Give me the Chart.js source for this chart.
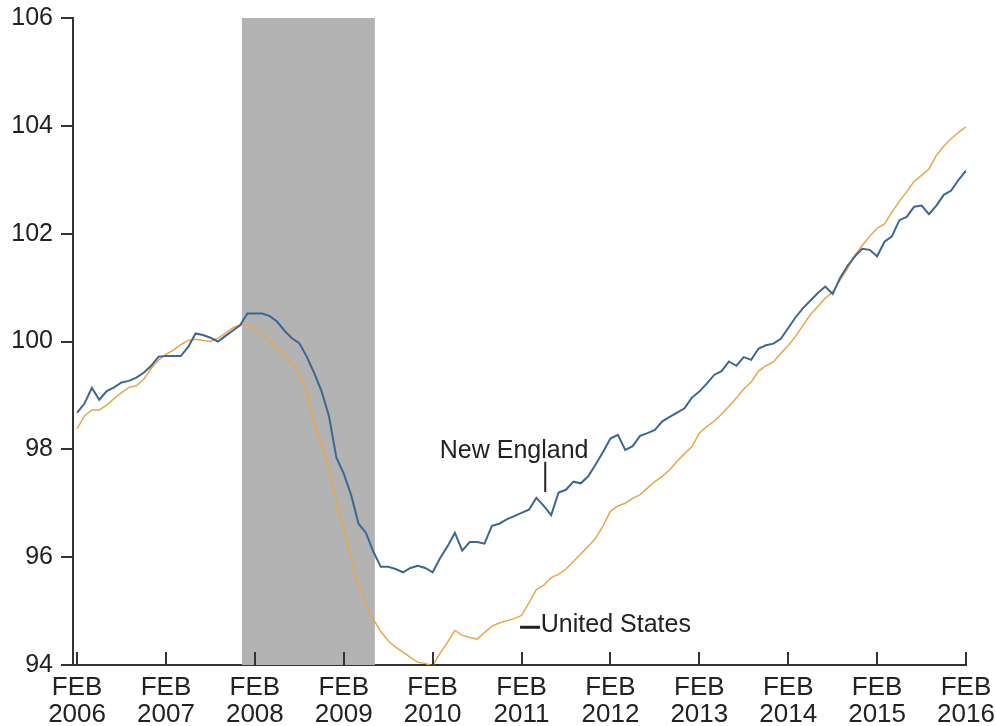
<!DOCTYPE html>
<html>
<head>
<meta charset="utf-8">
<script src="https://cdn.jsdelivr.net/npm/chart.js@4/dist/chart.umd.min.js"></script>
<style>
  html, body { margin: 0; padding: 0; background: #fff; }
  #wrap { width: 996px; height: 726px; }
</style>
</head>
<body>
<div id="wrap"><canvas id="chart" width="996" height="726"></canvas></div>
<script>
// monthly index, Feb 2006 = 0 ... Feb 2016 = 120
const years = [2006, 2007, 2008, 2009, 2010, 2011, 2012, 2013, 2014, 2015, 2016];
const yTicks = [94, 96, 98, 100, 102, 104, 106];

// recession band (Dec 2007 - Jun 2009), in month index
const recession = [22.25, 40.2];

const newEngland = [
  98.68, 98.85, 99.14, 98.92, 99.08, 99.15, 99.24, 99.27, 99.33, 99.42,
  99.55, 99.72, 99.73, 99.73, 99.73, 99.90, 100.15, 100.12, 100.07, 100.00,
  100.10, 100.20, 100.30, 100.52, 100.52, 100.52, 100.47, 100.37, 100.20, 100.06,
  99.97, 99.72, 99.42, 99.08, 98.62, 97.85, 97.55, 97.15, 96.62, 96.45,
  96.10, 95.82, 95.82, 95.78, 95.72, 95.80, 95.84, 95.80, 95.72, 95.98,
  96.20, 96.45, 96.12, 96.28, 96.28, 96.25, 96.58, 96.62, 96.70, 96.76,
  96.82, 96.88, 97.10, 96.95, 96.78, 97.20, 97.25, 97.40, 97.37, 97.50,
  97.72, 97.95, 98.20, 98.27, 97.99, 98.06, 98.25, 98.30, 98.36, 98.52,
  98.60, 98.68, 98.76, 98.96, 99.07, 99.22, 99.38, 99.45, 99.63, 99.55,
  99.71, 99.66, 99.87, 99.93, 99.96, 100.05, 100.25, 100.45, 100.62, 100.76,
  100.90, 101.02, 100.88, 101.18, 101.40, 101.58, 101.72, 101.70, 101.58, 101.85,
  101.95, 102.25, 102.31, 102.50, 102.52, 102.36, 102.52, 102.72, 102.80, 103.00,
  103.17
];

const unitedStates = [
  98.38, 98.62, 98.73, 98.73, 98.82, 98.94, 99.05, 99.15, 99.18, 99.30,
  99.50, 99.66, 99.76, 99.84, 99.94, 100.02, 100.04, 100.02, 100.00, 100.06,
  100.15, 100.25, 100.31, 100.31, 100.24, 100.12, 100.02, 99.88, 99.74, 99.60,
  99.40, 99.05, 98.50, 98.12, 97.62, 97.05, 96.55, 95.95, 95.48, 95.15,
  94.85, 94.62, 94.45, 94.33, 94.24, 94.14, 94.05, 94.03, 93.98, 94.22,
  94.42, 94.64, 94.55, 94.51, 94.48, 94.60, 94.72, 94.78, 94.82, 94.86,
  94.92, 95.15, 95.40, 95.48, 95.62, 95.68, 95.78, 95.92, 96.06, 96.20,
  96.35, 96.58, 96.85, 96.95, 97.00, 97.09, 97.16, 97.28, 97.40, 97.50,
  97.62, 97.78, 97.92, 98.05, 98.30, 98.42, 98.52, 98.65, 98.80, 98.95,
  99.12, 99.25, 99.45, 99.55, 99.62, 99.78, 99.92, 100.10, 100.30, 100.50,
  100.65, 100.80, 100.92, 101.14, 101.35, 101.60, 101.78, 101.95, 102.10, 102.18,
  102.40, 102.60, 102.78, 102.97, 103.08, 103.20, 103.45, 103.62, 103.76, 103.88,
  103.98
];

const FONT = "'Liberation Sans', Arial, sans-serif";
const INK = "#222";

// series annotations, placed in data units
const notes = [
  { text: "New England", x: 59.0, y: 97.97, align: "center", lead: [[63.2, 97.77], [63.2, 97.21]], leadWidth: 2 },
  { text: "United States", x: 62.6, y: 94.74, align: "left", lead: [[59.8, 94.70], [62.5, 94.70]], leadWidth: 3 }
];

const toPoints = arr => arr.map((v, i) => ({ x: i, y: v }));

const extras = {
  id: "extras",
  beforeDatasetsDraw(chart) {
    const { ctx, chartArea, scales } = chart;
    const x0 = scales.x.getPixelForValue(recession[0]);
    const x1 = scales.x.getPixelForValue(recession[1]);
    ctx.save();
    ctx.fillStyle = "#b3b3b3";
    ctx.fillRect(x0, chartArea.top, x1 - x0, chartArea.bottom - chartArea.top);
    ctx.restore();
  },
  afterDraw(chart) {
    const { ctx, chartArea, scales } = chart;
    ctx.save();
    // inward tick marks on the date axis
    ctx.strokeStyle = "#333";
    ctx.lineWidth = 2;
    scales.x.ticks.forEach(t => {
      const px = Math.round(scales.x.getPixelForValue(t.value));
      ctx.beginPath();
      ctx.moveTo(px, chartArea.bottom);
      ctx.lineTo(px, chartArea.bottom - 13);
      ctx.stroke();
    });
    // series labels
    ctx.font = "25px " + FONT;
    ctx.fillStyle = INK;
    ctx.textBaseline = "middle";
    notes.forEach(n => {
      ctx.strokeStyle = "#222";
      ctx.lineWidth = n.leadWidth;
      ctx.beginPath();
      ctx.moveTo(scales.x.getPixelForValue(n.lead[0][0]), scales.y.getPixelForValue(n.lead[0][1]));
      ctx.lineTo(scales.x.getPixelForValue(n.lead[1][0]), scales.y.getPixelForValue(n.lead[1][1]));
      ctx.stroke();
      ctx.textAlign = n.align;
      ctx.fillText(n.text, scales.x.getPixelForValue(n.x), scales.y.getPixelForValue(n.y));
    });
    ctx.restore();
  }
};

new Chart(document.getElementById("chart"), {
  type: "line",
  data: {
    datasets: [
      {
        label: "New England",
        data: toPoints(newEngland),
        borderColor: "#3d6793",
        borderWidth: 2,
        pointRadius: 0,
        tension: 0
      },
      {
        label: "United States",
        data: toPoints(unitedStates),
        borderColor: "#e7a74c",
        borderWidth: 1.5,
        pointRadius: 0,
        tension: 0
      }
    ]
  },
  options: {
    responsive: false,
    animation: false,
    layout: { autoPadding: false, padding: { top: 18, right: 30, left: 0, bottom: 0 } },
    plugins: {
      legend: { display: false },
      tooltip: { enabled: false }
    },
    scales: {
      x: {
        type: "linear",
        min: -0.55,
        max: 120,
        afterBuildTicks: scale => {
          scale.ticks = years.map((y, i) => ({ value: i * 12 }));
        },
        afterFit: scale => {
          scale.height = 61;
          scale.paddingLeft = 0;
          scale.paddingRight = 0;
        },
        grid: { drawOnChartArea: false, drawTicks: false },
        border: { display: true, color: "#333", width: 2 },
        ticks: {
          padding: 9,
          color: INK,
          font: { family: FONT, size: 26, lineHeight: 1.05 },
          maxRotation: 0,
          autoSkip: false,
          callback: value => ["FEB", String(years[Math.round(value / 12)])]
        }
      },
      y: {
        min: 94,
        max: 106,
        afterBuildTicks: scale => {
          scale.ticks = yTicks.map(v => ({ value: v }));
        },
        afterFit: scale => {
          scale.width = 73;
          scale.paddingTop = 0;
          scale.paddingBottom = 0;
        },
        grid: { drawOnChartArea: false, drawTicks: true, tickLength: 12, color: "#333", lineWidth: 2 },
        border: { display: true, color: "#333", width: 2 },
        ticks: {
          padding: 8,
          color: INK,
          font: { family: FONT, size: 25 }
        }
      }
    }
  },
  plugins: [extras]
});
</script>
</body>
</html>
